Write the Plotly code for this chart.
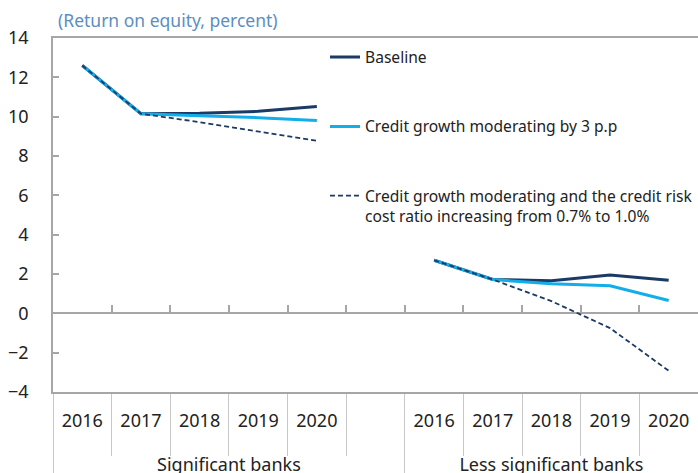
import plotly.graph_objects as go

group_names = ["Significant banks", "Less significant banks"]
groups = [group_names[0]] * 6 + [group_names[1]] * 5
years = ["2016", "2017", "2018", "2019", "2020", " ", "2016", "2017", "2018", "2019", "2020"]

baseline = [12.6, 10.15, 10.17, 10.27, 10.52, None, 2.70, 1.72, 1.66, 1.95, 1.68]
credit_growth = [12.6, 10.15, 10.05, 9.95, 9.80, None, 2.70, 1.72, 1.50, 1.40, 0.65]
credit_risk = [12.6, 10.15, 9.72, 9.25, 8.77, None, 2.70, 1.72, 0.62, -0.75, -2.92]

names = [
    "Baseline",
    "Credit growth moderating by 3 p.p",
    "Credit growth moderating and the credit risk<br>cost ratio increasing from 0.7% to 1.0%",
]

FONT = "Noto Sans"
NAVY = "#1B3A66"
LIGHT = "#12AEEA"
GRAY = "#A6A6A6"
LABEL = "<span style='font-size:18px'>{}</span>"

# axis label text (years on first level, group names pushed one line lower)
year_lbl = [LABEL.format(y) for y in years]
group_lbl = ["<br>" + LABEL.format(g) for g in groups]

fig = go.Figure()
x = [group_lbl, year_lbl]
fig.add_trace(go.Scatter(x=x, y=baseline, name=names[0], mode="lines",
                         line=dict(color=NAVY, width=3), legendgroup="a"))
fig.add_trace(go.Scatter(x=x, y=credit_growth, name=names[1], mode="lines",
                         line=dict(color=LIGHT, width=3), legendgroup="b"))
fig.add_trace(go.Scatter(x=x, y=credit_risk, name=names[2], mode="lines",
                         line=dict(color=NAVY, width=1.8, dash="5px,3px"), legendgroup="c"))
# helper trace so the zero-line tick axis knows the categories
fig.add_trace(go.Scatter(x=x, y=[None] * len(years), xaxis="x2", showlegend=False,
                         hoverinfo="skip", mode="lines"))

fig.update_layout(
    width=698, height=473,
    margin=dict(l=53, r=0, t=38, b=81),
    paper_bgcolor="white", plot_bgcolor="white",
    font=dict(family=FONT, size=16, color="#222222"),
    showlegend=True,
    legend=dict(x=1.0, y=0.993, xanchor="right", yanchor="top",
                bgcolor="rgba(0,0,0,0)", font=dict(size=15.6, color="#222222"),
                tracegroupgap=46, valign="top", traceorder="grouped"),
    xaxis=dict(type="multicategory", range=[-0.5, 10.5], automargin=False,
               showline=True, linecolor=GRAY, linewidth=1.5, mirror=True,
               ticks="outside", ticklen=62, tickcolor="#C8C8C8", tickwidth=1,
               tickson="boundaries", ticklabelstandoff=9,
               showdividers=True, dividercolor="#C8C8C8", dividerwidth=1,
               tickfont=dict(size=20.5, color="#222222"), showgrid=False),
    xaxis2=dict(type="multicategory", range=[-0.5, 10.5], overlaying="x",
                anchor="free", position=4 / 18, ticks="inside", ticklen=8,
                tickcolor=GRAY, tickwidth=1.5, tickson="boundaries", automargin=False,
                showticklabels=False, showline=False, showdividers=False,
                showgrid=False),
    yaxis=dict(range=[-4, 14], dtick=2, tick0=0, showline=True, linecolor=GRAY,
               linewidth=1.5, ticks="inside", ticklen=6, tickcolor=GRAY, automargin=False,
               tickwidth=1.5, zeroline=True, zerolinecolor=GRAY, zerolinewidth=1.5,
               showgrid=False, tickfont=dict(size=18, color="#222222"),
               ticklabelstandoff=19),
    annotations=[dict(text="(Return on equity, percent)", xref="paper", yref="paper",
                      x=0, y=1, xanchor="left", yanchor="bottom", xshift=3, yshift=4,
                      showarrow=False, font=dict(size=17.5, color="#5B8EC2"))],
)

fig.write_html("out.html", config={"displayModeBar": False},
               post_script="document.body.style.margin='0';")
